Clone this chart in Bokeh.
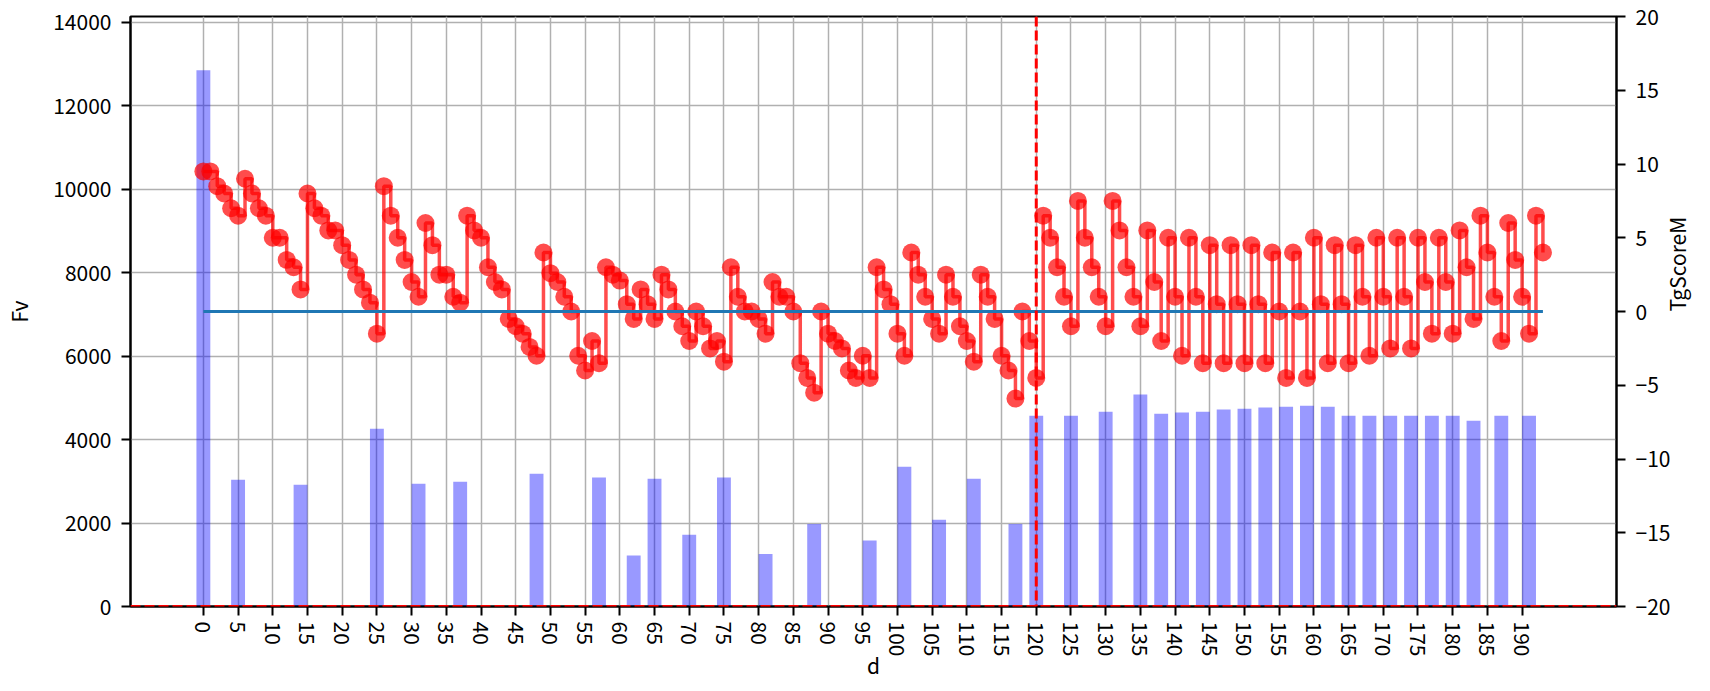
import math
from bokeh.plotting import figure
from bokeh.models import Range1d, LinearAxis, FixedTicker, Span, CustomJSTickFormatter
from bokeh.embed import file_html
from bokeh.resources import INLINE

# ---------------- data ----------------
d = list(range(194))
tg_score_m = [
    9.5, 9.5, 8.5, 8.0, 7.0, 6.5, 9.0, 8.0, 7.0, 6.5,
    5.0, 5.0, 3.5, 3.0, 1.5, 8.0, 7.0, 6.5, 5.5, 5.5,
    4.5, 3.5, 2.5, 1.5, 0.6, -1.5, 8.5, 6.5, 5.0, 3.5,
    2.0, 1.0, 6.0, 4.5, 2.5, 2.5, 1.0, 0.6, 6.5, 5.5,
    5.0, 3.0, 2.0, 1.5, -0.5, -1.0, -1.5, -2.4, -3.0, 4.0,
    2.6, 2.0, 1.0, 0.0, -3.0, -4.0, -2.0, -3.5, 3.0, 2.5,
    2.1, 0.5, -0.5, 1.5, 0.5, -0.5, 2.5, 1.5, 0.0, -1.0,
    -2.0, 0.0, -1.0, -2.5, -2.0, -3.4, 3.0, 1.0, 0.0, 0.0,
    -0.5, -1.5, 2.0, 1.0, 1.0, 0.0, -3.5, -4.5, -5.5, 0.0,
    -1.5, -2.0, -2.5, -4.0, -4.5, -3.0, -4.5, 3.0, 1.5, 0.5,
    -1.5, -3.0, 4.0, 2.5, 1.0, -0.5, -1.5, 2.5, 1.0, -1.0,
    -2.0, -3.4, 2.5, 1.0, -0.5, -3.0, -4.0, -5.9, 0.0, -2.0,
    -4.5, 6.5, 5.0, 3.0, 1.0, -1.0, 7.5, 5.0, 3.0, 1.0,
    -1.0, 7.5, 5.5, 3.0, 1.0, -1.0, 5.5, 2.0, -2.0, 5.0,
    1.0, -3.0, 5.0, 1.0, -3.5, 4.5, 0.5, -3.5, 4.5, 0.5,
    -3.5, 4.5, 0.5, -3.5, 4.0, 0.0, -4.5, 4.0, 0.0, -4.5,
    5.0, 0.5, -3.5, 4.5, 0.5, -3.5, 4.5, 1.0, -3.0, 5.0,
    1.0, -2.5, 5.0, 1.0, -2.5, 5.0, 2.0, -1.5, 5.0, 2.0,
    -1.5, 5.5, 3.0, -0.5, 6.5, 4.0, 1.0, -2.0, 6.0, 3.5,
    1.0, -1.5, 6.5, 4.0,
]
bar_d = [0, 5, 14, 25, 31, 37, 48, 57, 62, 65, 70, 75, 81, 88, 96, 101, 106, 111, 117,
         120, 125, 130, 135, 138, 141, 144, 147, 150, 153, 156, 159, 162, 165, 168, 171,
         174, 177, 180, 183, 187, 191]
bar_fv = [12850, 3040, 2920, 4260, 2940, 2990, 3180, 3090, 1220, 3060, 1720, 3090, 1260,
          1980, 1580, 3350, 2080, 3060, 1980, 4570, 4570, 4670, 5080, 4620, 4650, 4670,
          4720, 4740, 4770, 4790, 4810, 4790, 4570, 4570, 4570, 4570, 4570, 4570, 4450,
          4570, 4570]
mean_level = 0
cutoff_d = 120
x_ticks = list(range(0, 191, 5))
fv_ticks = list(range(0, 14001, 2000))
score_ticks = list(range(-20, 21, 5))

FONT = "Noto Sans CJK JP"
FS = "21px"

p = figure(width=1710, height=691,
           x_range=Range1d(-10.5, 203.6), y_range=Range1d(0, 14140),
           output_backend="svg", toolbar_location=None,
           min_border_left=130, min_border_right=92, min_border_top=16, min_border_bottom=85)
p.extra_y_ranges = {"score": Range1d(-20, 20)}
p.background_fill_color = "white"
p.border_fill_color = "white"
p.outline_line_color = "black"
p.outline_line_width = 2
p.outline_line_alpha = 1

# bars (Fv)
p.vbar(x=bar_d, top=bar_fv, width=2.0, fill_color="blue", fill_alpha=0.4, line_color=None)

# TgScoreM step line with markers
p.step(d, tg_score_m, mode="after", y_range_name="score",
       line_color="red", line_alpha=0.7, line_width=3.5)
p.scatter(d, tg_score_m, size=18, y_range_name="score",
          fill_color="red", fill_alpha=0.7, line_color=None)

# mean line
p.line([d[0], d[-1]], [mean_level, mean_level], y_range_name="score",
       line_color="#1f77b4", line_width=3)

p.add_layout(Span(location=cutoff_d, dimension="height", line_color="red",
                  line_dash="10 4", line_width=3))
p.add_layout(Span(location=0, dimension="width", line_color="red",
                  line_dash="10 4", line_width=3))

# axes
right = LinearAxis(y_range_name="score", axis_label="TgScoreM")
p.add_layout(right, "right")

p.xaxis.ticker = FixedTicker(ticks=x_ticks)
p.xaxis.major_label_orientation = "vertical"
p.xaxis.axis_label = "d"
p.yaxis[0].ticker = FixedTicker(ticks=fv_ticks)
p.yaxis[0].axis_label = "Fv"
right.ticker = FixedTicker(ticks=score_ticks)
right.formatter = CustomJSTickFormatter(code="return (tick < 0 ? '\u2212' : '') + Math.abs(tick);")

for ax in [p.xaxis[0], p.yaxis[0], right]:
    ax.axis_line_width = 2
    ax.axis_line_color = "black"
    ax.major_tick_line_width = 2
    ax.major_tick_out = 9
    ax.major_tick_in = 0
    ax.minor_tick_out = 0
    ax.minor_tick_in = 0
    ax.major_label_text_font = FONT
    ax.major_label_text_font_size = FS
    ax.major_label_text_color = "black"
    ax.major_label_standoff = 10
    ax.axis_label_text_font = FONT
    ax.axis_label_text_font_size = FS
    ax.axis_label_text_font_style = "normal"
    ax.axis_label_text_color = "black"

p.yaxis[0].axis_label_standoff = 16
p.xaxis[0].major_label_standoff = 6
p.xaxis[0].major_label_text_baseline = "bottom"
p.xaxis[0].axis_label_standoff = -9
right.axis_label_standoff = 4
if "axis_label_orientation" in LinearAxis.properties():
    right.axis_label_orientation = math.pi / 2

p.xgrid.ticker = FixedTicker(ticks=x_ticks)
p.ygrid.ticker = FixedTicker(ticks=fv_ticks)
p.grid.grid_line_color = "#b0b0b0"
p.grid.grid_line_width = 1.5

open("out.html", "w").write(file_html(p, INLINE))
